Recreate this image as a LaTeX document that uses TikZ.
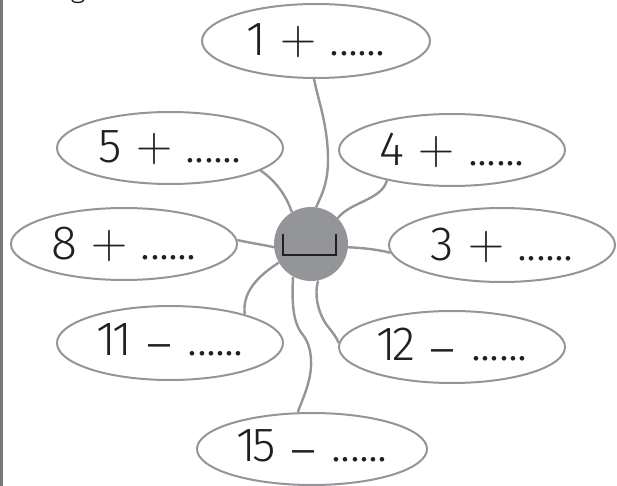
\documentclass[tikz,border=0pt]{standalone}
\usepackage{fontspec}
\IfFontExistsTF{Fira Sans Light}{\newfontfamily\lblfont{Fira Sans Light}}{%
  \IfFontExistsTF{Lato Light}{\newfontfamily\lblfont{Lato Light}}{%
    \newfontfamily\lblfont{Fira Sans}}}
\usetikzlibrary{shapes.geometric}
\definecolor{lg}{RGB}{147,149,152}
\definecolor{ink}{RGB}{35,31,32}
\definecolor{barc}{RGB}{119,120,123}
\newcommand\onedot{\makebox[9.2pt]{.}}
\newcommand\dotrow{\onedot\onedot\onedot\onedot\onedot\onedot}
\newcommand\opplus{{\rmfamily\fontsize{50}{50}\selectfont\raisebox{1pt}{+}}}
\newcommand\opminus{{\fontsize{50}{50}\selectfont\raisebox{-6pt}{–}}}
\newcommand\plbl[1]{#1\hspace{14pt}\opplus\hspace{14pt}\dotrow}
\newcommand\mlbl[1]{#1\hspace{14pt}\opminus\hspace{16pt}\dotrow}
\tikzset{
  bubble/.style={ellipse, draw=lg, line width=2pt, inner sep=0pt,
    minimum width=226pt, minimum height=72pt, text=ink,
    font=\lblfont\fontsize{48}{50}\selectfont},
  link/.style={draw=lg, line width=2.4pt},
  hub/.style={circle, fill=lg, minimum size=74pt, inner sep=0pt}
}
\begin{document}
\begin{tikzpicture}[x=1pt,y=-1pt]
\useasboundingbox (0,0) rectangle (617,486);
\draw[barc, line width=3pt] (1.5,0) -- (1.5,486);
\node[anchor=base, text=ink, font=\lblfont\fontsize{30}{30}\selectfont] (g) at (78,-2) {g};
\node[hub] (c) at (311,244) {};
\draw[ink, line width=1.6pt] (283,234) -- (283,255) -- (336,255) -- (336,234);
\node[bubble, minimum width=228pt, minimum height=74pt] (e1) at (316,41) {\plbl{1}};
\node[bubble] (e5) at (170,148) {\plbl{5}};
\node[bubble] (e4) at (452,150) {\plbl{4}};
\node[bubble, minimum height=74pt] (e3) at (502,245) {\plbl{3}};
\node[bubble] (e8) at (124,244) {\plbl{8}};
\node[bubble, minimum height=74pt] (e11) at (170,343) {\mlbl{1\kern-4pt1}};
\node[bubble] (e12) at (452,347) {\mlbl{1\kern-4pt2}};
\node[bubble, minimum width=230pt] (e15) at (312,449) {\mlbl{1\kern-4pt5}};
\draw[link] (e1.-93) .. controls (318,100) and (328,125) .. (328,160) .. controls (328,185) and (320,198) .. (c.82);
\draw[link] (e5.-14) .. controls (275,180) and (286,195) .. (c.121);
\draw[link] (e4.-155) .. controls (382,200) and (350,202) .. (c.44);
\draw[link] (c.-5) .. controls (365,248) and (380,250) .. (e3.-176);
\draw[link] (e8.2) .. controls (250,243) and (265,245) .. (c.185);
\draw[link] (c.210) .. controls (258,276) and (242,292) .. (e11.21);
\draw[link] (c.241) .. controls (292,300) and (292,322) .. (303,335) .. controls (313,348) and (312,368) .. (309,380) .. controls (306,393) and (300,405) .. (e15.111);
\draw[link] (c.-79) .. controls (314,295) and (318,312) .. (326,324) .. controls (333,333) and (337,338) .. (e12.178);
\end{tikzpicture}
\end{document}
